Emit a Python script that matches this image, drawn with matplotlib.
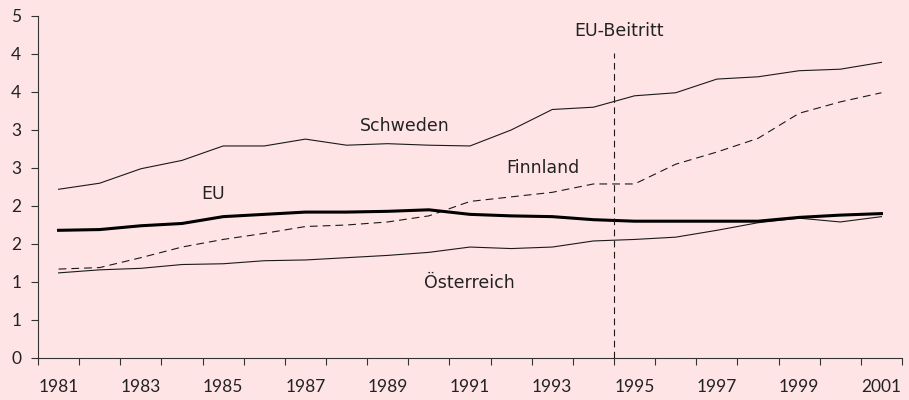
import numpy as np
import matplotlib.pyplot as plt
from matplotlib.ticker import FixedLocator, NullFormatter

# Data
years = list(range(1981, 2002))
schweden = [2.22, 2.30, 2.49, 2.60, 2.79, 2.79, 2.88, 2.80, 2.82, 2.80, 2.79,
            3.00, 3.27, 3.30, 3.45, 3.49, 3.67, 3.70, 3.78, 3.80, 3.89]
finnland = [1.17, 1.19, 1.32, 1.46, 1.56, 1.64, 1.73, 1.75, 1.79, 1.87, 2.06,
            2.12, 2.18, 2.29, 2.29, 2.55, 2.71, 2.89, 3.22, 3.37, 3.49]
eu = [1.68, 1.69, 1.74, 1.77, 1.86, 1.89, 1.92, 1.92, 1.93, 1.95, 1.89,
      1.87, 1.86, 1.82, 1.80, 1.80, 1.80, 1.80, 1.85, 1.88, 1.90]
oesterreich = [1.12, 1.16, 1.18, 1.23, 1.24, 1.28, 1.29, 1.32, 1.35, 1.39, 1.46,
               1.44, 1.46, 1.54, 1.56, 1.59, 1.68, 1.78, 1.84, 1.79, 1.86]
y_ticks = [0, 0.5, 1, 1.5, 2, 2.5, 3, 3.5, 4, 4.5]
y_tick_labels = ['0', '1', '1', '2', '2', '3', '3', '4', '4', '5']
beitritt_pos = 13.5  # between 1994 and 1995

bg = '#ffe4e6'
ink = '#222222'
plt.rcParams['font.family'] = ['Lato', 'DejaVu Sans']

fig = plt.figure(figsize=(9.09, 4.0), dpi=100, facecolor=bg)
ax = fig.add_axes([38 / 909, 42 / 400, 864 / 909, 342 / 400], facecolor=bg)

x = np.arange(len(years))

# Series lines
ax.plot(x, schweden, color='#1a1a1a', lw=0.8)
ax.plot(x, finnland, color='#1a1a1a', lw=0.8, dashes=(7, 4.5))
ax.plot(x, oesterreich, color='#1a1a1a', lw=0.8)
ax.plot(x, eu, color='#000000', lw=2.2)

# EU accession marker
ax.plot([beitritt_pos, beitritt_pos], [0, 4.01], color='#1a1a1a', lw=0.8, dashes=(6, 4))

# Labels (wide sans like the original)
label_font = dict(family=['DejaVu Sans'], fontsize=12.5, color=ink, ha='center', va='baseline')
ax.text(13.61, 4.24, 'EU-Beitritt', **label_font)
ax.text(8.42, 2.99, 'Schweden', **label_font)
ax.text(11.77, 2.43, 'Finnland', **label_font)
ax.text(3.75, 2.09, 'EU', **label_font)
ax.text(9.98, 0.92, 'Österreich', **label_font)

# Axes
ax.set_xlim(-0.5, len(years) - 0.5)
ax.set_ylim(0, 4.5)
ax.set_yticks(y_ticks)
ax.set_yticklabels(y_tick_labels)

ax.xaxis.set_major_locator(FixedLocator(np.arange(-0.5, len(years), 1.0)))
ax.xaxis.set_major_formatter(NullFormatter())
ax.xaxis.set_minor_locator(FixedLocator(x[::2]))
ax.set_xticklabels([str(y) for y in years[::2]], minor=True)
ax.tick_params(axis='x', which='minor', length=0, pad=15, labelsize=12.5, colors=ink)
ax.tick_params(axis='x', which='major', length=5, width=0.8, color='#333333')
ax.tick_params(axis='y', length=5, width=0.8, color='#333333', labelsize=12.5, labelcolor=ink, pad=7)

for side in ['top', 'right']:
    ax.spines[side].set_visible(False)
for side in ['left', 'bottom']:
    ax.spines[side].set_color('#333333')
    ax.spines[side].set_linewidth(0.8)

fig.savefig('out.png', dpi=100, facecolor=bg)
